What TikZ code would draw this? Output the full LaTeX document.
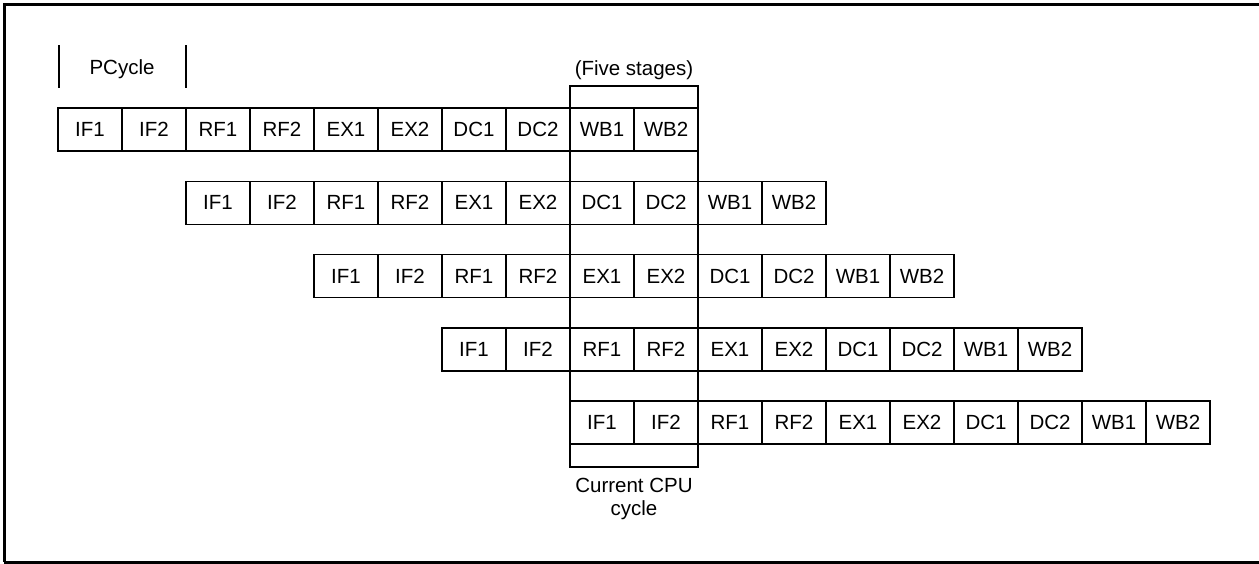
\documentclass[tikz,border=0pt]{standalone}
\usepackage{fontspec}
\setmainfont{Liberation Sans}
\begin{document}
\begin{tikzpicture}[x=1pt,y=-1pt,
    stage/.style={draw, line width=1.5pt, minimum width=64pt, minimum height=43pt,
                  inner sep=0pt, font=\fontsize{20.5}{24}\selectfont},
    lbl/.style={font=\fontsize{20.5}{23.5}\selectfont, align=center, inner sep=0pt}]

        % 画布与外框
        \useasboundingbox (0,0) rectangle (1259,563);
        \draw[line width=3pt] (4,562) -- (4,4) -- (1259,4);
        \draw[line width=3pt] (4,562) -- (1259,562);

        % PCycle 标记
        \node[lbl] (pcycle) at (122,69) {PCycle};
        \coordinate (pa) at (59,45);
        \coordinate (pb) at (186,45);
        \draw[line width=1.5pt] (pa) -- ++(0,43);
        \draw[line width=1.5pt] (pb) -- ++(0,43);

        % 五条流水线
        \foreach \r in {0,...,4} {
            \foreach \s [count=\i from 0] in {IF1,IF2,RF1,RF2,EX1,EX2,DC1,DC2,WB1,WB2} {
                \node[stage] (c\r-\i) at (90+128*\r+64*\i, 129.5+73.25*\r) {\s};
            }
        }

        % 当前 CPU 周期窗口
        \node[draw, line width=1.5pt, minimum width=128pt, minimum height=381pt,
              inner sep=0pt] (window) at (634,276.5) {};
        \node[lbl] (five) at (634,70) {(Five stages)};
        \node[lbl] (current) at (634,499) {Current CPU\\cycle};

\end{tikzpicture}
\end{document}
